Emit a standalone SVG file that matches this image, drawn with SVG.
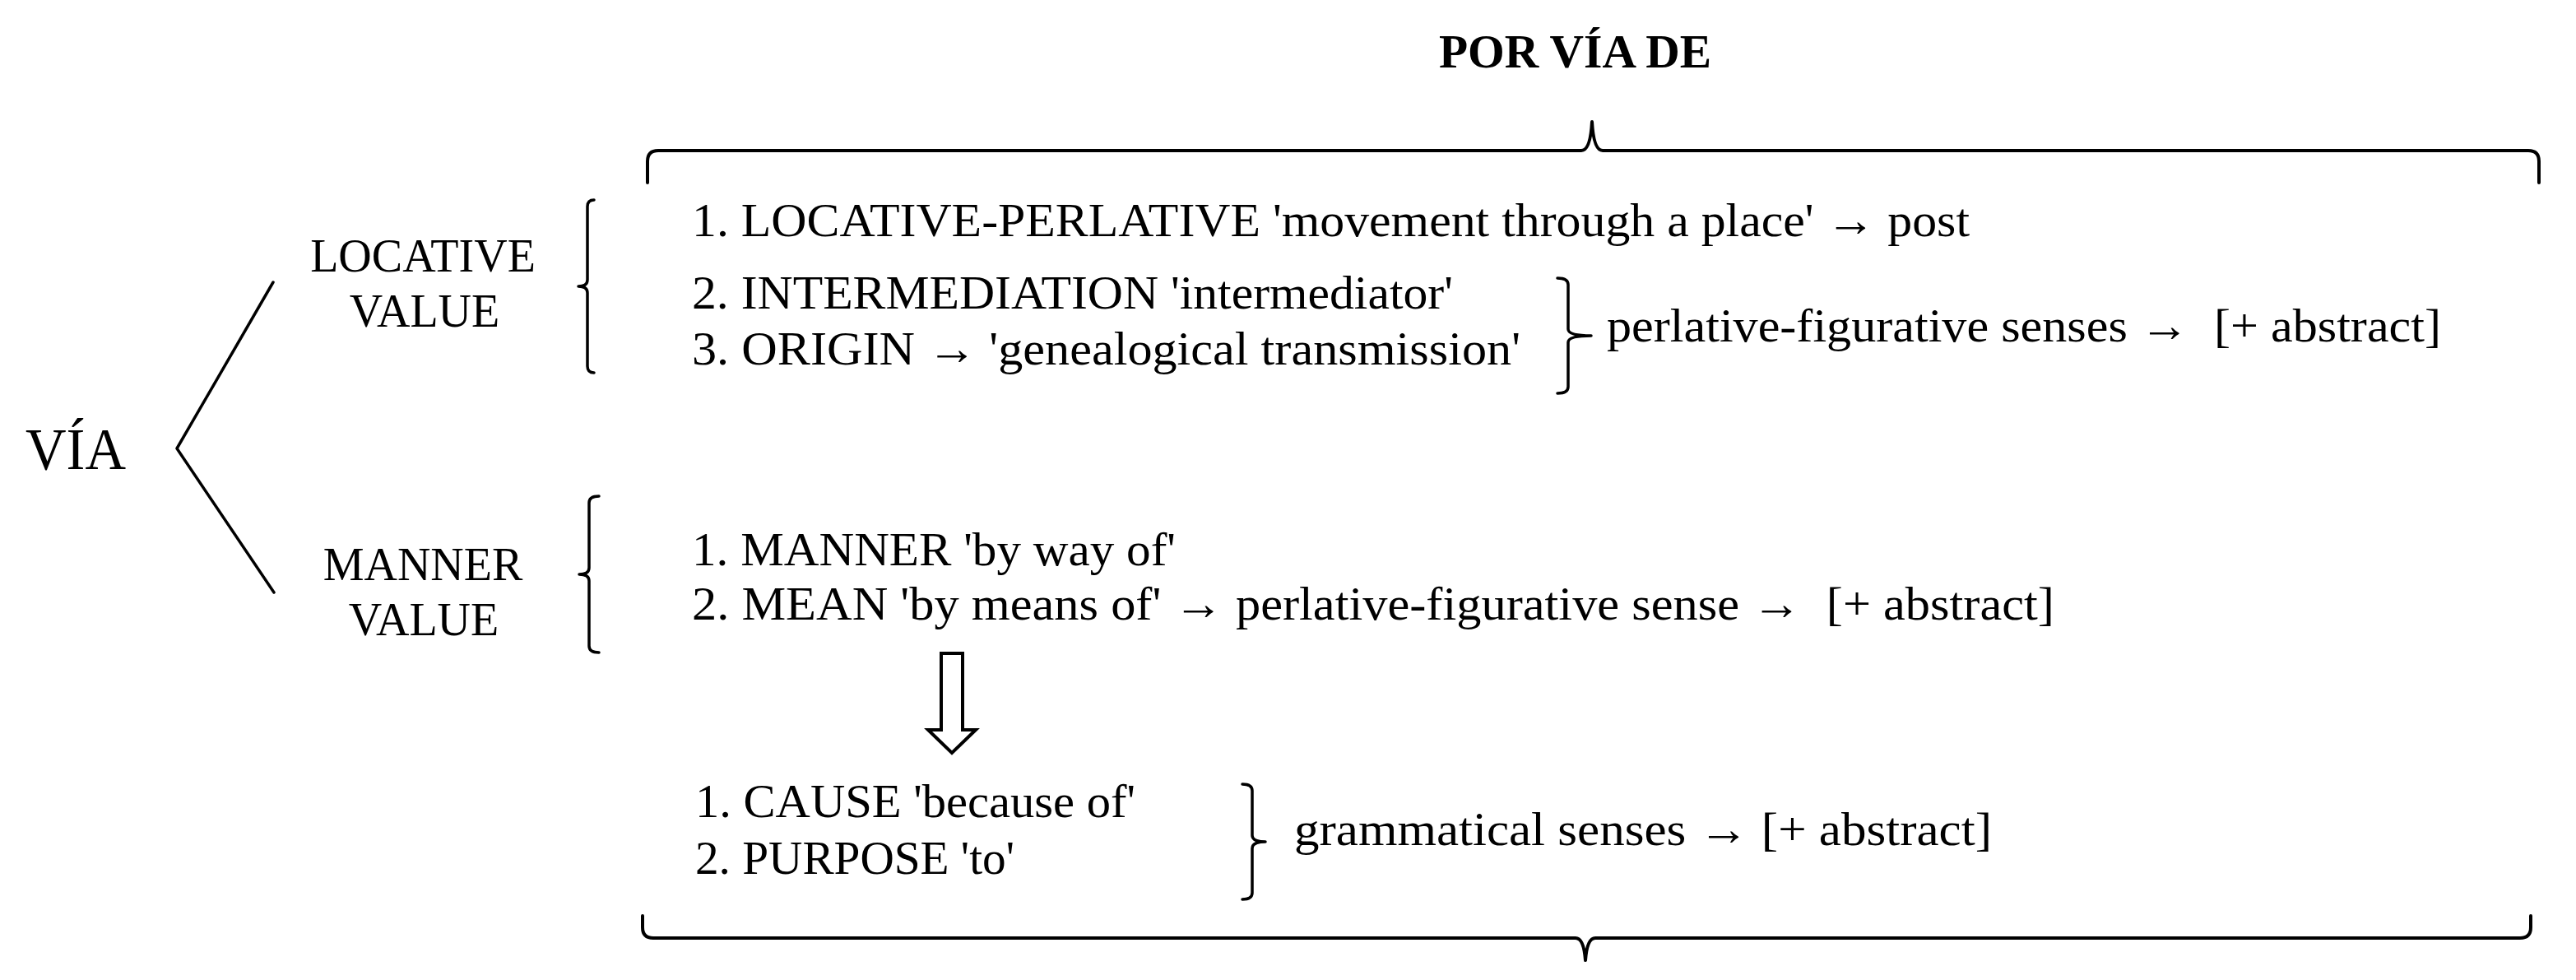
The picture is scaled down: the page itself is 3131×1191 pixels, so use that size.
<svg xmlns="http://www.w3.org/2000/svg" width="3131" height="1191" viewBox="0 0 3131 1191">
<style>
.t{font-family:"Liberation Serif","Times New Roman",serif;font-size:58px;fill:#000}
.lab{font-family:"Liberation Serif","Times New Roman",serif;font-size:56px;fill:#000;text-anchor:middle}
.b{font-family:"Liberation Serif","Times New Roman",serif;font-size:56px;font-weight:bold;fill:#000}
.ln{fill:none;stroke:#000;stroke-width:3.5;stroke-linecap:round;stroke-linejoin:round}
.br{fill:none;stroke:#000;stroke-width:4;stroke-linecap:round;stroke-linejoin:round}
</style>
<rect width="3131" height="1191" fill="#fff"/>
<g id="title"><text class="b" x="1749" y="82" textLength="331" lengthAdjust="spacingAndGlyphs">POR VÍA DE</text></g>
<g id="via"><text class="t" x="31" y="570" style="font-size:72px" textLength="122" lengthAdjust="spacingAndGlyphs">VÍA</text></g>
<g id="locative-value">
<text class="lab" x="514" y="330">LOCATIVE</text>
<text class="lab" x="516" y="397">VALUE</text>
</g>
<g id="manner-value">
<text class="lab" x="514" y="705">MANNER</text>
<text class="lab" x="515" y="772">VALUE</text>
</g>
<g id="locative-senses">
<text class="t" x="841" y="287" textLength="1553" lengthAdjust="spacingAndGlyphs">1. LOCATIVE-PERLATIVE 'movement through a place' → post</text>
<text class="t" x="841" y="375" textLength="925" lengthAdjust="spacingAndGlyphs">2. INTERMEDIATION 'intermediator'</text>
<text class="t" x="841" y="443" textLength="1007" lengthAdjust="spacingAndGlyphs">3. ORIGIN → 'genealogical transmission'</text>
</g>
<g id="perlative-figurative"><text class="t" x="1953" y="415" textLength="1014" lengthAdjust="spacingAndGlyphs">perlative-figurative senses → &#160;[+ abstract]</text></g>
<g id="manner-senses">
<text class="t" x="841" y="687" textLength="588" lengthAdjust="spacingAndGlyphs">1. MANNER 'by way of'</text>
<text class="t" x="841" y="753" textLength="1656" lengthAdjust="spacingAndGlyphs">2. MEAN 'by means of' → perlative-figurative sense → &#160;[+ abstract]</text>
</g>
<g id="grammatical-senses">
<text class="t" x="845" y="993" textLength="535" lengthAdjust="spacingAndGlyphs">1. CAUSE 'because of'</text>
<text class="t" x="845" y="1062" textLength="388" lengthAdjust="spacingAndGlyphs">2. PURPOSE 'to'</text>
</g>
<g id="grammatical-label"><text class="t" x="1573" y="1027" textLength="848" lengthAdjust="spacingAndGlyphs">grammatical senses → [+ abstract]</text></g>
<g id="connectors">
<polyline class="ln" points="332,343 215,545 333,720"/>
<path class="ln" d="M722,243 Q714,243 714,251 L714,340 Q714,348 703,348 Q714,348 714,356 L714,445 Q714,453 722,453"/>
<path class="ln" d="M728,603 Q716,603 716,611 L716,690 Q716,698 704,698 Q716,698 716,706 L716,785 Q716,793 728,793"/>
<path class="ln" d="M1893,338 Q1906,338 1906,346 L1906,400 Q1906,408 1934,408 Q1906,408 1906,416 L1906,470 Q1906,478 1893,478"/>
<path class="ln" d="M1510,953 Q1522,953 1522,961 L1522,1015 Q1522,1023 1538,1023 Q1522,1023 1522,1031 L1522,1085 Q1522,1093 1510,1093"/>
<path class="br" d="M787,222 L787,196 Q787,183 800,183 L1922,183 Q1933,183 1935,148 Q1937,183 1948,183 L3073,183 Q3086,183 3086,196 L3086,222"/>
<path class="br" d="M781,1113 L781,1127 Q781,1140 794,1140 L1915,1140 Q1925,1140 1927,1167 Q1929,1140 1939,1140 L3063,1140 Q3076,1140 3076,1127 L3076,1113"/>
<polygon points="1144,794 1170,794 1170,887 1186,887 1157,915 1128,887 1144,887" fill="#fff" stroke="#000" stroke-width="4" stroke-linejoin="miter"/>
</g>
</svg>
